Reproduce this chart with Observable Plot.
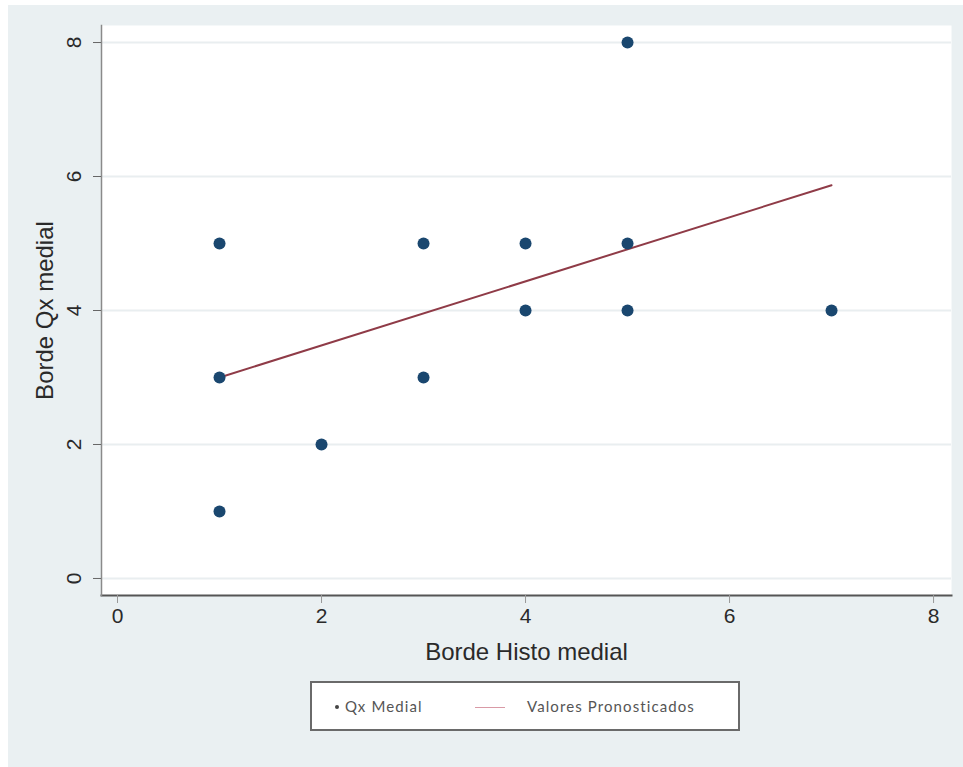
<!DOCTYPE html>
<html>
<head>
<meta charset="utf-8">
<script src="https://cdn.jsdelivr.net/npm/d3@7"></script>
<script src="https://cdn.jsdelivr.net/npm/@observablehq/plot@0.6"></script>
<style>
  html, body { margin: 0; padding: 0; background: #ffffff; }
  #wrap { position: absolute; left: 8px; top: 5px; width: 955px; height: 762px; background: #eaf0f2; overflow: hidden; }
  #chart { position: absolute; left: -8px; top: -5px; }
  #chart svg { display: block; }
  #legend { position: absolute; left: 302px; top: 676px; width: 426px; height: 46px; background: #ffffff; border: 2px solid #6a6a6a;
    font-family: Lato, "Open Sans", sans-serif; font-size: 15px; letter-spacing: 1.1px; color: #555; }
  #legend .item { position: absolute; top: 14px; white-space: nowrap; }
  #legend .dot { display: inline-block; width: 4px; height: 4px; border-radius: 50%; background: #444; vertical-align: middle; margin-right: 6px; position: relative; top: -1px; }
  #legend .ln { position: absolute; top: 24px; height: 1px; width: 30px; background: #d99aa6; }
</style>
</head>
<body>
<div id="wrap">
  <div id="chart"></div>
  <div id="legend"></div>
</div>
<script>
const qxX = [1, 1, 1, 2, 3, 3, 4, 4, 5, 5, 5, 7];
const qxY = [5, 3, 1, 2, 5, 3, 5, 4, 8, 5, 4, 4];
const fitX = [1, 7];
const fitY = [3.0, 5.87];
const xTicks = [0, 2, 4, 6, 8];
const yTicks = [0, 2, 4, 6, 8];
const xTitle = "Borde Histo medial";
const yTitle = "Borde Qx medial";
const legendLabels = ["Qx Medial", "Valores Pronosticados"];

const points = qxX.map((x, i) => ({x, y: qxY[i]}));
const fit = fitX.map((x, i) => ({x, y: fitY[i]}));

const chart = Plot.plot({
  width: 963,
  height: 672,
  marginLeft: 101,
  marginRight: 12,
  marginTop: 25,
  marginBottom: 77,
  x: {domain: [-0.157, 8.176]},
  y: {domain: [-0.254, 8.254]},
  style: {background: "transparent", fontFamily: "'Liberation Sans', Arial, sans-serif", color: "#2a2a2a"},
  marks: [
    Plot.frame({fill: "white", stroke: null}),
    Plot.gridY(yTicks, {stroke: "#e9eef0", strokeOpacity: 1, strokeWidth: 2}),
    Plot.frame({anchor: "bottom", stroke: "#555", strokeWidth: 2}),
    Plot.frame({anchor: "left", stroke: "#8a8a8a", strokeWidth: 1.5}),
    Plot.axisX(xTicks, {tickSize: 8, tickPadding: 5, stroke: "#999", fill: "#2a2a2a", fontSize: 21, tickFormat: "d",
      label: xTitle, labelAnchor: "center", labelOffset: 64}),
    Plot.axisY(yTicks, {tickSize: 8, tickPadding: 13, tickRotate: -90, stroke: "#666", fill: "#2a2a2a", fontSize: 21, tickFormat: "d",
      label: yTitle, labelAnchor: "center", labelOffset: 66}),
    Plot.line(fit, {x: "x", y: "y", stroke: "#8f3b47", strokeWidth: 2}),
    Plot.dot(points, {x: "x", y: "y", r: 6, fill: "#1a476f", stroke: null})
  ]
});
// axis titles: larger font, no arrows
chart.querySelectorAll("[aria-label='x-axis label'] text, [aria-label='y-axis label'] text").forEach(t => {
  t.setAttribute("font-size", 24);
  t.textContent = t.textContent.replace(/\s*[←→↑↓]\s*/g, "").trim();
});
document.getElementById("chart").appendChild(chart);

const lg = document.getElementById("legend");
lg.innerHTML =
  `<span class="item" style="left:23px"><span class="dot"></span>${legendLabels[0]}</span>` +
  `<span class="ln" style="left:163px"></span>` +
  `<span class="item" style="left:215px">${legendLabels[1]}</span>`;
</script>
</body>
</html>
